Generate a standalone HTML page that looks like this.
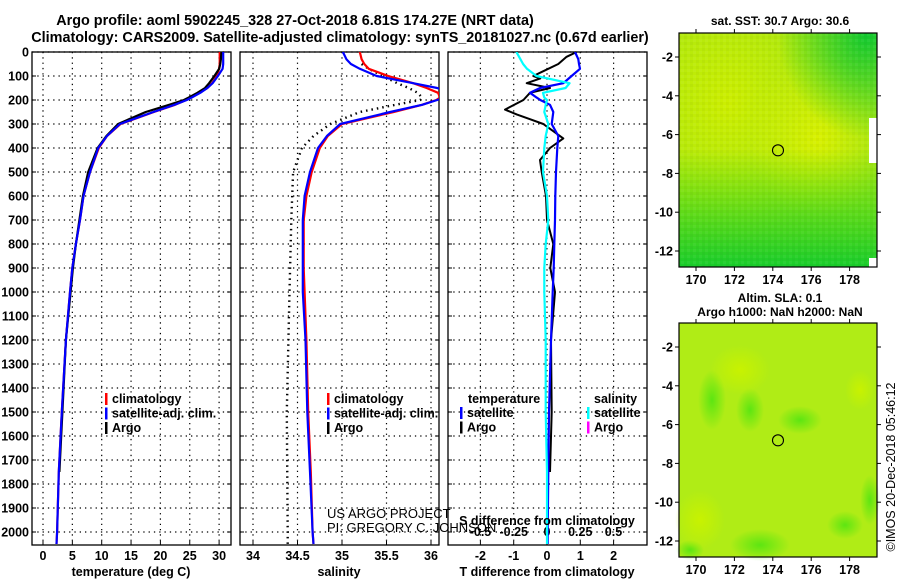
<!DOCTYPE html>
<html><head><meta charset="utf-8">
<style>
html,body{margin:0;padding:0;background:#fff}
svg{display:block;font-family:"Liberation Sans",sans-serif;font-weight:bold}
text{font-size:12.5px;fill:#000}
</style></head>
<body>
<svg id="c" width="900" height="580" viewBox="0 0 900 580">
<defs>
<radialGradient id="g1" cx="0.25" cy="0.3" r="0.6"><stop offset="0" stop-color="#ccee00"/><stop offset="1" stop-color="#ccee00" stop-opacity="0"/></radialGradient>
<radialGradient id="g2" cx="0.95" cy="0.0" r="0.45"><stop offset="0" stop-color="#10c830"/><stop offset="1" stop-color="#10c830" stop-opacity="0"/></radialGradient>
<linearGradient id="g3" x1="0" y1="0" x2="0" y2="1"><stop offset="0.5" stop-color="#10d010" stop-opacity="0"/><stop offset="1" stop-color="#00c830" stop-opacity="0.85"/></linearGradient>
<radialGradient id="g4" cx="0.7" cy="0.45" r="0.35"><stop offset="0" stop-color="#d8f000"/><stop offset="1" stop-color="#d8f000" stop-opacity="0"/></radialGradient>
<radialGradient id="b1" cx="0.5" cy="0.5" r="0.5"><stop offset="0" stop-color="#48e410" stop-opacity="0.8"/><stop offset="1" stop-color="#48e410" stop-opacity="0"/></radialGradient>
<radialGradient id="b2" cx="0.5" cy="0.5" r="0.5"><stop offset="0" stop-color="#c8f200"/><stop offset="1" stop-color="#c8f200" stop-opacity="0"/></radialGradient>
<pattern id="px" width="6" height="6" patternUnits="userSpaceOnUse"><rect width="3" height="3" fill="#000" opacity="0.03"/><rect x="3" y="3" width="3" height="3" fill="#fff" opacity="0.05"/></pattern>
</defs>
<text x="295" y="25" text-anchor="middle" style="font-size:14.4px">Argo profile: aoml 5902245_328 27-Oct-2018 6.81S 174.27E (NRT data)</text>
<text x="340" y="42" text-anchor="middle" style="font-size:14.4px">Climatology: CARS2009. Satellite-adjusted climatology: synTS_20181027.nc (0.67d earlier)</text>
<g id="p1"></g>
<g id="p2"></g>
<g id="p3"></g>
<g id="m1"></g>
<g id="m2"></g>
<text x="327" y="518" style="font-weight:normal;font-size:13px">US ARGO PROJECT</text>
<text x="327" y="532" style="font-weight:normal;font-size:13px">PI: GREGORY C. JOHNSON</text>
<text transform="translate(895,467) rotate(-90)" text-anchor="middle" style="font-weight:normal;font-size:12.5px">©IMOS 20-Dec-2018 05:46:12</text>
</svg>
<script>
const depths=[0,30,50,70,100,130,150,170,190,200,220,250,300,350,400,500,600,700,800,900,1000,1200,1500,1750,2000,2050];
const tempClim=[30.1,30.1,30.1,30.0,29.6,28.8,28.0,26.6,25.2,24.4,22.5,18.9,13.2,10.9,9.5,8.0,6.9,6.3,5.6,5.0,4.6,3.9,3.2,2.7,2.4,2.3];
const tempSat=[30.7,30.7,30.7,30.6,29.8,28.9,28.0,26.8,25.3,24.5,22.4,18.8,13.1,10.9,9.4,8.0,6.9,6.3,5.6,5.0,4.6,3.9,3.2,2.7,2.4,2.3];
const tempArgo=[30.4,30.3,30.2,30.0,29.2,28.3,27.6,26.3,24.8,24.0,21.5,17.5,12.8,10.8,9.3,7.7,6.8,6.2,5.6,5.1,4.7,3.9,3.3,2.8];
const salClim=[35.2,35.22,35.25,35.3,35.52,35.8,35.95,36.08,36.1,36.06,35.9,35.58,35.0,34.84,34.75,34.66,34.6,34.57,34.57,34.57,34.58,34.6,34.62,34.65,34.67,34.68];
const salSat=[35.01,35.05,35.1,35.2,35.39,35.8,36.07,36.2,36.15,36.07,35.9,35.54,34.98,34.83,34.73,34.64,34.58,34.56,34.56,34.56,34.56,34.59,34.61,34.64,34.67,34.68];
const salArgoDepths=[50,70,100,130,150,170,190,200,220,250,300,350,400,500,700,1000,1500,2000,2050];
const salArgo=[35.22,35.3,35.46,35.62,35.75,35.85,35.9,35.88,35.6,35.2,34.87,34.68,34.55,34.45,34.43,34.41,34.38,34.39,34.39];
const dTsat=[0.84,0.94,0.96,0.99,0.74,0.49,-0.21,-0.51,-0.31,-0.2,0.09,0.19,0.14,0.34,0.31,0.27,0.25,0.24,0.22,0.2,0.17,0.12,0.06,0.04,0.02,0.02];
const dTargoDepths=[0,20,50,80,100,110,130,150,170,200,240,260,280,300,330,360,400,450,500,600,700,800,900,1000,1200,1500,1750];
const dTargo=[0.89,0.59,0.34,-0.11,-0.41,-0.2,-0.61,0.09,-0.51,-0.71,-1.26,-0.91,-0.51,-0.11,0.19,0.49,0.09,-0.21,-0.16,-0.03,0.0,0.19,0.1,0.24,0.12,0.14,0.09];
const dSsat=[-0.23,-0.2,-0.18,-0.15,-0.08,0.17,0.14,-0.03,-0.02,0.0,-0.01,-0.02,0.01,-0.01,-0.02,-0.03,0.0,0.01,-0.01,-0.02,-0.02,-0.01,-0.01,0.0,0.0,0.0];
const depthTicks=[0,100,200,300,400,500,600,700,800,900,1000,1100,1200,1300,1400,1500,1600,1700,1800,1900,2000];
const tTicks=[0,5,10,15,20,25,30];
const sTicks=[34,34.5,35,35.5,36];
const dtTicks=[-2,-1,0,1,2];
const dsTicks=[-0.5,-0.25,0,0.25,0.5];
const lonTicks=[170,172,174,176,178];
const latTicks=[-2,-4,-6,-8,-10,-12];

const NS='http://www.w3.org/2000/svg';
function mk(parent,tag,attrs){const e=document.createElementNS(NS,tag);for(const k in attrs)e.setAttribute(k,attrs[k]);parent.appendChild(e);return e;}
const Y=d=>52+0.24*d;
const PTOP=52,PBOT=545;
function frame(g,x0,x1){
  mk(g,'rect',{x:x0,y:PTOP,width:x1-x0,height:PBOT-PTOP,fill:'#fff',stroke:'#000','stroke-width':1.3});
}
function hgrid(g,x0,x1,labels){
  depthTicks.forEach(d=>{
    const y=Y(d);
    const l=mk(g,'line',{x1:x0,x2:x1,y1:y,y2:y,stroke:'#000','stroke-dasharray':'1.3,4','stroke-width':1.2});
    
    
    mk(g,'line',{x1:x0,x2:x0+4,y1:y,y2:y,stroke:'#000'});
    mk(g,'line',{x1:x1-4,x2:x1,y1:y,y2:y,stroke:'#000'});
    if(labels){const t=mk(g,'text',{x:x0-3,y:y+4.5,'text-anchor':'end'});t.textContent=d;
      
      }
  });
}
function vgrid(g,ticks,X,fmt,ly){
  ticks.forEach(v=>{const x=X(v);
    const l=mk(g,'line',{x1:x,x2:x,y1:PTOP,y2:PBOT,stroke:'#000','stroke-dasharray':'1.3,4','stroke-width':1.2});
    
    
    mk(g,'line',{x1:x,x2:x,y1:PBOT-4,y2:PBOT,stroke:'#000'});
    const t=mk(g,'text',{x:x,y:ly,'text-anchor':'middle'});t.textContent=fmt(v);
    
    
  });
}
function line(g,ds,vs,X,color,w,dash,name,clipId){
  const pts=vs.map((v,i)=>X(v).toFixed(1)+','+Y(ds[i]).toFixed(1)).join(' ');
  const a={points:pts,fill:'none',stroke:color,'stroke-width':w,'stroke-linejoin':'round'};
  if(dash)a['stroke-dasharray']=dash;
  if(clipId)a['clip-path']='url(#'+clipId+')';
  const p=mk(g,'polyline',a);
  
  
}
function clip(id,x0,x1){const svg=document.getElementById('c');const defs=svg.querySelector('defs');const cp=mk(defs,'clipPath',{id:id});mk(cp,'rect',{x:x0,y:PTOP,width:x1-x0,height:PBOT-PTOP});}
function legend(g,x,y,items){
  items.forEach((it,i)=>{
    const yy=y+i*14.5;
    mk(g,'rect',{x:x,y:yy-10,width:2.5,height:12,fill:it[1]});
    const t=mk(g,'text',{x:x+7,y:yy});t.textContent=it[0];
    
    
  });
}
// Panel 1
const p1=document.getElementById('p1');
const X1=v=>43+v*5.87;
frame(p1,32,231);clip('c1',32,231);
hgrid(p1,32,231,true);
vgrid(p1,tTicks,X1,v=>v,560);
line(p1,depths,tempClim,X1,'#f00',2.2,null,'temp-climatology-line','c1');
line(p1,depths.slice(0,tempArgo.length),tempArgo,X1,'#000',2.2,null,'temp-argo-line','c1');
line(p1,depths,tempSat,X1,'#00f',2.2,null,'temp-satellite-line','c1');
legend(p1,105,403,[['climatology','#f00'],['satellite-adj. clim.','#00f'],['Argo','#000']]);
{const t=mk(p1,'text',{x:131,y:576,'text-anchor':'middle'});t.textContent='temperature (deg C)';}
// Panel 2
const p2=document.getElementById('p2');
const X2=v=>253+(v-34)*89;
frame(p2,240,439);clip('c2',240,439);
hgrid(p2,240,439,false);
vgrid(p2,sTicks,X2,v=>v,560);
line(p2,salArgoDepths,salArgo,X2,'#000',2.4,'1.5,4','salinity-argo-dotted-line','c2');
line(p2,depths,salClim,X2,'#f00',2.2,null,'sal-climatology-line','c2');
line(p2,depths,salSat,X2,'#00f',2.2,null,'sal-satellite-line','c2');
legend(p2,327,403,[['climatology','#f00'],['satellite-adj. clim.','#00f'],['Argo','#000']]);
{const t3=mk(p2,'text',{x:339,y:576,'text-anchor':'middle'});t3.textContent='salinity';}
// Panel 3
const p3=document.getElementById('p3');
const X3=v=>547+v*33.3;
const XS=v=>547+v*133;
frame(p3,448,647);clip('c3',448,647);
hgrid(p3,448,647,false);
vgrid(p3,dtTicks,X3,v=>v,560);
dsTicks.forEach(v=>{const t=mk(p3,'text',{x:XS(v),y:536,'text-anchor':'middle'});t.textContent=v;});
line(p3,dTargoDepths,dTargo,X3,'#000',2,null,'tdiff-argo-line','c3');
line(p3,depths,dTsat,X3,'#00f',2.2,null,'tdiff-satellite-line','c3');
line(p3,depths,dSsat,XS,'#0ff',2.2,null,'sdiff-satellite-line','c3');
{const t=mk(p3,'text',{x:468,y:403});t.textContent='temperature';
 const t2=mk(p3,'text',{x:594,y:403});t2.textContent='salinity';}
legend(p3,460,417,[['satellite','#00f'],['Argo','#000']]);
legend(p3,587,417,[['satellite','#0ff'],['Argo','#f0f']]);
{const t=mk(p3,'text',{x:547,y:525,'text-anchor':'middle'});t.textContent='S difference from climatology';
 const t2=mk(p3,'text',{x:547,y:576,'text-anchor':'middle'});t2.textContent='T difference from climatology';}
// Maps
function map(g,y0,y1,lat2y,titleY,title,kind){
  const x0=679,x1=877;
  const LX=v=>696+(v-170)*19.2;
  const LY=v=>lat2y+(-2-v)*19.4;
  if(kind===1){
    mk(g,'rect',{x:x0,y:y0,width:x1-x0,height:y1-y0,fill:'#a4e614'});
    mk(g,'rect',{x:x0,y:y0,width:x1-x0,height:y1-y0,fill:'url(#g1)'});
    mk(g,'rect',{x:x0,y:y0,width:x1-x0,height:y1-y0,fill:'url(#g4)'});
    mk(g,'rect',{x:x0,y:y0,width:x1-x0,height:y1-y0,fill:'url(#g2)'});
    mk(g,'rect',{x:x0,y:y0,width:x1-x0,height:y1-y0,fill:'url(#g3)'});
    mk(g,'rect',{x:x0,y:y0,width:x1-x0,height:y1-y0,fill:'url(#px)'});
    mk(g,'rect',{x:869,y:118,width:8,height:45,fill:'#fff'});
    mk(g,'rect',{x:869,y:258,width:8,height:9,fill:'#fff'});
  } else {
    mk(g,'rect',{x:x0,y:y0,width:x1-x0,height:y1-y0,fill:'#b0ec16'});
    [[712,400,14,30],[750,410,14,22],[800,420,22,14],[760,545,30,16],[845,525,18,14],[870,500,10,25],[690,550,14,10]].forEach(b=>mk(g,'ellipse',{cx:b[0],cy:b[1],rx:b[2],ry:b[3],fill:'url(#b1)'}));
    [[700,520,25,30],[740,370,30,25],[860,390,15,20]].forEach(b=>mk(g,'ellipse',{cx:b[0],cy:b[1],rx:b[2],ry:b[3],fill:'url(#b2)'}));
  }
  mk(g,'rect',{x:x0,y:y0,width:x1-x0,height:y1-y0,fill:'none',stroke:'#000','stroke-width':1.2});
  mk(g,'circle',{cx:LX(174.27),cy:LY(-6.81),r:5.5,fill:'none',stroke:'#000','stroke-width':1.1});
  lonTicks.forEach(v=>{const x=LX(v);mk(g,'line',{x1:x,x2:x,y1:y0-4,y2:y0,stroke:'#000'});mk(g,'line',{x1:x,x2:x,y1:y1,y2:y1+4,stroke:'#000'});
    const t=mk(g,'text',{x:x,y:y1+17,'text-anchor':'middle'});t.textContent=v;});
  latTicks.forEach(v=>{const y=LY(v);mk(g,'line',{x1:x0-4,x2:x0,y1:y,y2:y,stroke:'#000'});mk(g,'line',{x1:x1,x2:x1+4,y1:y,y2:y,stroke:'#000'});
    const t=mk(g,'text',{x:x0-6,y:y+4.5,'text-anchor':'end'});t.textContent=v;});
  title.forEach((s,i)=>{const t=mk(g,'text',{x:780,y:titleY+i*14,'text-anchor':'middle',style:'font-size:12px'});t.textContent=s;});
}
map(document.getElementById('m1'),33,267,57,25,['sat. SST: 30.7 Argo: 30.6'],1);
map(document.getElementById('m2'),323,557,347,302,['Altim. SLA: 0.1','Argo h1000: NaN h2000: NaN'],2);
</script>
</body></html>
